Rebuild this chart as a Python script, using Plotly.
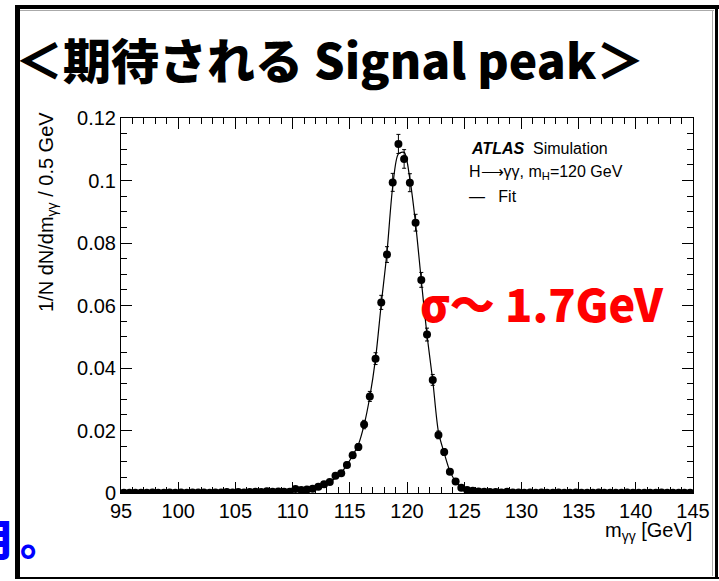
import numpy as np
import plotly.graph_objects as go

# Canvas and plot-area geometry (pixels)
W, H = 719, 581
ML, MR, MT, MB = 121, 26, 118, 88

# Histogram binning of the diphoton invariant mass
bin_lo, bin_hi, bin_w = 95.0, 145.0, 0.5
m_gg = np.arange(bin_lo + bin_w / 2, bin_hi, bin_w)

# 1/N dN/dm per 0.5 GeV bin (simulated H->gg, mH = 120 GeV)
density = [
    0.0001, 0.0001, 0.0001, 0.0001, 0.0001, 0.0002, 0.0001, 0.0001, 0.0002, 0.0001,
    0.0002, 0.0001, 0.0002, 0.0002, 0.0002, 0.0001, 0.0002, 0.0002, 0.0003, 0.0002,
    0.0003, 0.0002, 0.0003, 0.0004, 0.0003, 0.0006, 0.0004, 0.0005, 0.0004, 0.0004,
    0.0013, 0.0010, 0.0011, 0.0014, 0.0020, 0.0028, 0.0035, 0.0055, 0.0063, 0.0090,
    0.0121, 0.0147, 0.0219, 0.0309, 0.0430, 0.0610, 0.0763, 0.0994, 0.1117, 0.1069,
    0.0993, 0.0865, 0.0682, 0.0507, 0.0362, 0.0186, 0.0131, 0.0068, 0.0037, 0.0017,
    0.0010, 0.0007, 0.0005, 0.0004, 0.0003, 0.0003, 0.0002, 0.0004, 0.0002, 0.0002,
    0.0001, 0.0002, 0.0001, 0.0002, 0.0001, 0.0001, 0.0002, 0.0001, 0.0001, 0.0002,
    0.0001, 0.0001, 0.0001, 0.0002, 0.0001, 0.0001, 0.0001, 0.0001, 0.0002, 0.0001,
    0.0001, 0.0001, 0.0001, 0.0001, 0.0002, 0.0001, 0.0001, 0.0001, 0.0001, 0.0001,
]

# Fitted line shape evaluated at the bin centres
fit_density = [
    0.0001, 0.0001, 0.0001, 0.0001, 0.0001, 0.0001, 0.0001, 0.0001, 0.0001, 0.0001,
    0.0002, 0.0002, 0.0002, 0.0002, 0.0002, 0.0002, 0.0002, 0.0002, 0.0002, 0.0002,
    0.0003, 0.0003, 0.0003, 0.0003, 0.0003, 0.0004, 0.0005, 0.0006, 0.0007, 0.0008,
    0.0009, 0.0010, 0.0012, 0.0015, 0.0019, 0.0026, 0.0035, 0.0048, 0.0065, 0.0090,
    0.0120, 0.0155, 0.0218, 0.0308, 0.0430, 0.0605, 0.0770, 0.0980, 0.1085, 0.1090,
    0.1005, 0.0862, 0.0680, 0.0505, 0.0360, 0.0195, 0.0128, 0.0070, 0.0037, 0.0018,
    0.0010, 0.0007, 0.0005, 0.0004, 0.0003, 0.0003, 0.0002, 0.0002, 0.0002, 0.0002,
    0.0002, 0.0002, 0.0002, 0.0002, 0.0002, 0.0002, 0.0002, 0.0002, 0.0002, 0.0001,
    0.0001, 0.0001, 0.0001, 0.0001, 0.0001, 0.0001, 0.0001, 0.0001, 0.0001, 0.0001,
    0.0001, 0.0001, 0.0001, 0.0001, 0.0001, 0.0001, 0.0001, 0.0001, 0.0001, 0.0001,
]

# Poisson uncertainty for a normalised sample of n_events
n_events = 12000
errors = np.sqrt(np.array(density) * n_events) / n_events

x_ticks = list(range(95, 150, 5))
y_ticks = [0, 0.02, 0.04, 0.06, 0.08, 0.10, 0.12]
y_tick_text = ["0", "0.02", "0.04", "0.06", "0.08", "0.1", "0.12"]

AX_FONT = "Liberation Sans, Arial, Helvetica, sans-serif"
JP_FONT = "Noto Sans CJK JP, sans-serif"


def px(x):
    """pixel x -> paper x"""
    return (x - ML) / (W - ML - MR)


def py(y):
    """pixel y -> paper y"""
    return (H - MB - y) / (H - MT - MB)


fig = go.Figure()

fig.add_trace(go.Scatter(
    x=m_gg, y=fit_density, mode="lines",
    line=dict(color="black", width=1.2, shape="spline", smoothing=0.8),
    hoverinfo="skip", showlegend=False,
))

fig.add_trace(go.Scatter(
    x=m_gg, y=density, mode="markers",
    marker=dict(color="black", size=8),
    error_y=dict(type="data", array=errors, color="black", thickness=1, width=2),
    showlegend=False,
))

axis_common = dict(
    showline=True, linecolor="black", linewidth=1, mirror="ticks",
    ticks="inside", tickcolor="black", tickwidth=1, ticklen=11,
    showgrid=False, zeroline=False,
    tickfont=dict(family=AX_FONT, size=20, color="black"),
)

fig.update_xaxes(
    range=[bin_lo, bin_hi], tickvals=x_ticks, ticktext=[str(v) for v in x_ticks],
    minor=dict(dtick=1, ticklen=6, ticks="inside", tickcolor="black"),
    ticklabelstandoff=0,
    **axis_common,
)
fig.update_yaxes(
    range=[0, 0.12], tickvals=y_ticks, ticktext=y_tick_text,
    minor=dict(dtick=0.005, ticklen=6, ticks="inside", tickcolor="black"),
    **axis_common,
)

annotations = [
    # slide heading
    dict(x=px(13), y=py(58), text="＜期待される Signal peak＞",
         font=dict(family=JP_FONT, size=48, color="black", weight=900),
         xanchor="left", yanchor="middle"),
    # axis titles
    dict(x=px(47), y=py(212), text="1/N dN/dm<sub>γγ</sub> / 0.5 GeV", textangle=-90,
         font=dict(family=AX_FONT, size=20, color="black"),
         xanchor="center", yanchor="middle"),
    dict(x=px(694), y=py(531), text="m<sub>γγ</sub> [GeV]",
         font=dict(family=AX_FONT, size=20, color="black"),
         xanchor="right", yanchor="middle"),
    # plot labels
    dict(x=px(469), y=py(148), text="<b><i>ATLAS</i></b>  Simulation",
         font=dict(family=AX_FONT, size=16, color="black"),
         xanchor="left", yanchor="middle"),
    dict(x=px(467), y=py(172), text="H⟶γγ, m<sub>H</sub>=120 GeV",
         font=dict(family=AX_FONT, size=16, color="black"),
         xanchor="left", yanchor="middle"),
    dict(x=px(467), y=py(196), text="—   Fit",
         font=dict(family=AX_FONT, size=16, color="black"),
         xanchor="left", yanchor="middle"),
    # resolution note
    dict(x=px(418), y=py(302), text="σ～ 1.7GeV",
         font=dict(family=JP_FONT, size=45, color="#ff0000", weight=900),
         xanchor="left", yanchor="middle"),
    # trailing text from neighbouring slide content
    dict(x=px(-33), y=py(537), text="用",
         font=dict(family=JP_FONT, size=44, color="#0000ff", weight=900),
         xanchor="left", yanchor="middle"),
    dict(x=px(18), y=py(536), text="。",
         font=dict(family=JP_FONT, size=42, color="#0000ff", weight=900),
         xanchor="left", yanchor="middle"),
]

# slide frame
frame = [
    dict(x0=px(17.5), x1=px(17.5), y0=py(579), y1=py(5), width=5),
    dict(x0=px(15), x1=px(719), y0=py(7), y1=py(7), width=4),
    dict(x0=px(716.5), x1=px(716.5), y0=py(5), y1=py(579), width=3),
    dict(x0=px(15), x1=px(719), y0=py(578), y1=py(578), width=2),
]
shapes = [
    dict(type="line", xref="paper", yref="paper", x0=f["x0"], x1=f["x1"],
         y0=f["y0"], y1=f["y1"], line=dict(color="black", width=f["width"]))
    for f in frame
]
shapes += [
    dict(type="line", xref="paper", yref="paper", x0=px(20), x1=px(714),
         y0=py(10.5), y1=py(10.5), line=dict(color="#aaaaaa", width=1)),
    dict(type="line", xref="paper", yref="paper", x0=px(712.5), x1=px(712.5),
         y0=py(10.5), y1=py(576), line=dict(color="#aaaaaa", width=1)),
]

fig.update_layout(
    width=W, height=H,
    margin=dict(l=ML, r=MR, t=MT, b=MB, autoexpand=False),
    paper_bgcolor="white", plot_bgcolor="white",
    annotations=[dict(a, xref="paper", yref="paper", showarrow=False) for a in annotations],
    shapes=shapes,
)

fig.write_html("out.html")
